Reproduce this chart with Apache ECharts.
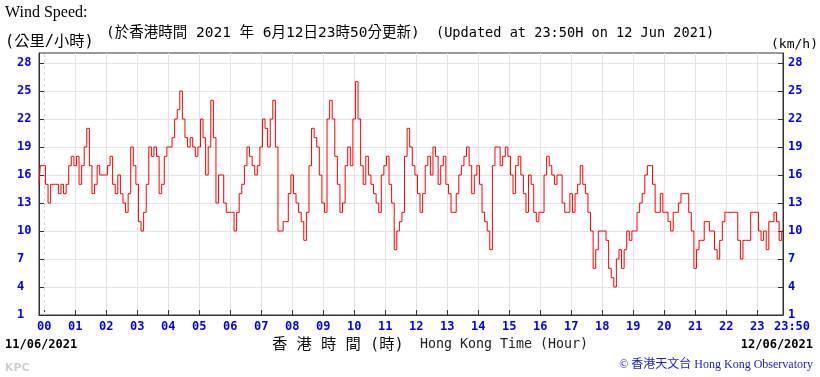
<!DOCTYPE html>
<html>
<head>
<meta charset="utf-8">
<script src="https://cdn.jsdelivr.net/npm/echarts@6/dist/echarts.min.js"></script>
<style>
html,body{margin:0;padding:0;background:#fff;}
#chart{width:820px;height:377px;}
</style>
</head>
<body>
<div id="chart"></div>
<script>
// ---- data (10-minute mean wind speed, km/h, sampled every 5 minutes) ----
const startMinute = -10;           // 23:50 on 11/06/2021
const stepMinutes = 5;
const leadIn = [15, 17];           // 23:50, 23:55 (11/06)
const speed00to05 = [
  17,15,13,15,15,15,14,15,14,15,17,18,
  17,18,15,17,19,21,17,14,15,17,16,16,
  16,17,18,15,14,16,14,13,12,14,19,17,
  15,11,10,12,15,19,18,19,18,14,15,18,
  19,19,20,22,23,25,22,20,19,20,19,18,
  19,22,20,16,19,24,20,13,16,16,13,12
];
const speed06to11 = [
  12,12,10,12,14,15,17,19,18,17,16,17,
  19,22,21,19,22,24,19,10,10,11,11,14,
  16,14,13,12,11,9,12,17,21,20,19,16,
  13,12,22,24,22,18,15,12,13,17,19,17,
  22,26,22,17,15,18,16,15,14,13,12,16,
  17,18,15,13,8,10,11,12,18,21,19,17
];
const speed12to17 = [
  16,14,12,14,17,18,16,19,18,15,17,18,
  15,14,12,12,14,16,17,18,19,17,14,16,
  17,15,12,11,10,8,17,19,19,17,18,19,
  18,16,14,17,18,16,14,12,16,15,12,11,
  12,12,16,18,17,16,15,16,16,13,12,12,
  14,12,14,15,17,15,14,12,10,6,8,10
];
const speed18to23 = [
  10,10,9,6,5,4,7,8,6,8,10,9,
  10,10,12,13,14,16,17,17,15,12,12,14,
  12,12,11,10,12,12,13,14,14,14,12,10,
  6,8,9,9,11,11,10,10,8,7,9,11,
  12,12,12,12,12,9,7,9,9,9,12,12,
  12,10,9,10,8,11,11,12,11,9,10
];
const hourTickMinutes = [0,60,120,180,240,300,360,420,480,540,600,660,720,780,840,900,960,1020,1080,1140,1200,1260,1320,1380];
const hourTickLabels = ['00','01','02','03','04','05','06','07','08','09','10','11','12','13','14','15','16','17','18','19','20','21','22','23'];
const endMinute = 1430;
const endLabel = '23:50';
const speedTicks = [1,4,7,10,13,16,19,22,25,28];

// ---- build ----
const allSpeeds = leadIn.concat(speed00to05, speed06to11, speed12to17, speed18to23);
const seriesData = allSpeeds.map((v, i) => [startMinute + i * stepMinutes, v]);
const labelMinutes = hourTickMinutes.concat([endMinute]);
const gridMinutes = hourTickMinutes.filter(m => m > 0);

const BLUE = '#0000ff';
const MONO = '"DejaVu Sans Mono", "Liberation Mono", monospace';
const CJK = '"Noto Sans CJK TC", "Noto Sans CJK SC", sans-serif';
const MONOCJK = '"DejaVu Sans Mono", "Noto Sans CJK TC", "Noto Sans CJK SC", monospace';
const labelStyle = { color: BLUE, fontFamily: MONO, fontWeight: 'bold', fontSize: 12 };

const chart = echarts.init(document.getElementById('chart'), null, { renderer: 'canvas' });

function txt(x, y, text, font, fill, align) {
  return {
    type: 'text', x: x, y: y, silent: true,
    style: { text: text, font: font, fill: fill,
      align: align || 'left', verticalAlign: 'middle',
      textAlign: align || 'left', textVerticalAlign: 'middle' }
  };
}

chart.setOption({
  animation: false,
  backgroundColor: '#fff',
  grid: { left: 39, right: 37, top: 53, bottom: 62, show: true, borderColor: '#333', borderWidth: 1, containLabel: false },
  xAxis: [{
    type: 'value', min: startMinute, max: endMinute, position: 'bottom',
    axisLine: { show: true, onZero: false, lineStyle: { color: '#333' } },
    axisTick: { show: true, inside: true, length: 5, customValues: hourTickMinutes, lineStyle: { color: '#333' } },
    axisLabel: {
      show: true, customValues: labelMinutes, margin: 6, ...labelStyle,
      formatter: function (v) {
        if (v === endMinute) return '{end|' + endLabel + '}';
        const i = hourTickMinutes.indexOf(v);
        return i >= 0 ? hourTickLabels[i] : '';
      },
      rich: { end: { padding: [0, 0, 0, 18], color: BLUE, fontFamily: MONO, fontWeight: 'bold', fontSize: 12 } }
    },
    splitLine: { show: false }
  }, {
    type: 'value', min: startMinute, max: endMinute, position: 'bottom',
    axisLine: { show: false, onZero: false }, axisLabel: { show: false },
    axisTick: { show: false, customValues: gridMinutes },
    splitLine: { show: true, lineStyle: { color: '#e3e3e3', width: 1 } }
  }],
  yAxis: [{
    type: 'value', min: 1, max: 29.07, position: 'left',
    axisLine: { show: true, onZero: false, lineStyle: { color: '#333' } },
    axisTick: { show: true, inside: true, length: 5, customValues: speedTicks, lineStyle: { color: '#333' } },
    axisLabel: { show: true, customValues: speedTicks, align: 'left', margin: 22, ...labelStyle },
    splitLine: { show: true, lineStyle: { color: '#e3e3e3', width: 1 } }
  }, {
    type: 'value', min: 1, max: 29.07, position: 'right',
    axisLine: { show: true, onZero: false, lineStyle: { color: '#333' } },
    axisTick: { show: true, inside: true, length: 5, customValues: speedTicks, lineStyle: { color: '#333' } },
    axisLabel: { show: true, customValues: speedTicks, align: 'left', margin: 5, ...labelStyle },
    splitLine: { show: false }
  }],
  series: [{
    type: 'line', xAxisIndex: 0, yAxisIndex: 0, data: seriesData,
    step: 'middle', showSymbol: false, symbol: 'none', z: 3,
    lineStyle: { color: '#ff0000', width: 1 },
    markLine: {
      silent: true, symbol: 'none', z: 1, label: { show: false },
      lineStyle: { color: '#d8d8d8', type: [3, 3], width: 1 },
      emphasis: { disabled: true },
      data: [{ xAxis: 0 }]
    }
  }],
  graphic: [
    txt(5, 13, 'Wind Speed:', '16px "Liberation Serif", "Times New Roman", serif', '#000'),
    txt(5, 42, '(公里/小時)', '15.3px ' + MONOCJK, '#000'),
    txt(106, 33, '(於香港時間 2021 年 6月12日23時50分更新)', '14.5px ' + MONOCJK, '#000'),
    txt(436, 33, '(Updated at 23:50H on 12 Jun 2021)', '13.6px ' + MONO, '#000'),
    txt(818, 45, '(km/h)', '13px ' + MONO, '#000', 'right'),
    txt(5, 345, '11/06/2021', 'bold 12px ' + MONO, '#000'),
    txt(813, 345, '12/06/2021', 'bold 12px ' + MONO, '#000', 'right'),
    txt(272, 345, '香 港 時 間 (時)', '15.3px ' + MONOCJK, '#111'),
    txt(420, 345, 'Hong Kong Time (Hour)', '13.3px ' + MONO, '#222'),
    txt(5, 368, 'KPC', 'bold 11px "DejaVu Sans", sans-serif', '#cfcfcf'),
    txt(813, 365, '© 香港天文台 Hong Kong Observatory', '12px "Liberation Serif", ' + CJK, '#1a1acc', 'right')
  ]
});
</script>
</body>
</html>
